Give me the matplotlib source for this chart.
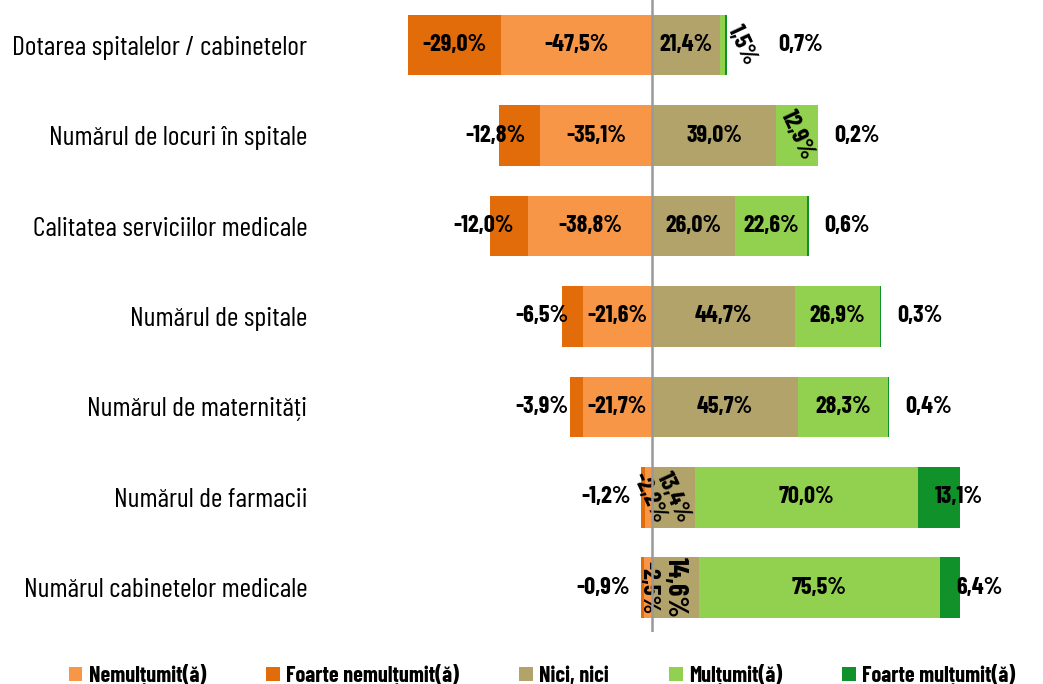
import matplotlib.pyplot as plt
import numpy as np

categories = ['Dotarea spitalelor / cabinetelor', 'Numărul de locuri în spitale',
              'Calitatea serviciilor medicale', 'Numărul de spitale',
              'Numărul de maternități', 'Numărul de farmacii',
              'Numărul cabinetelor medicale']

# values in %, negative side shown as minus
nemultumit = [47.5, 35.1, 38.8, 21.6, 21.7, 2.2, 2.5]
foarte_nemultumit = [29.0, 12.8, 12.0, 6.5, 3.9, 1.2, 0.9]
nici_nici = [21.4, 39.0, 26.0, 44.7, 45.7, 13.4, 14.6]
multumit = [1.5, 12.9, 22.6, 26.9, 28.3, 70.0, 75.5]
foarte_multumit = [0.7, 0.2, 0.6, 0.3, 0.4, 13.1, 6.4]

series_names = ['Nemulțumit(ă)', 'Foarte nemulțumit(ă)', 'Nici, nici',
                'Mulțumit(ă)', 'Foarte mulțumit(ă)']
colors = ['#F79646', '#E36C0A', '#B1A36A', '#92D050', '#10912A']

plt.rcParams['font.family'] = ['Barlow Condensed', 'DejaVu Sans']


def pct(v):
    return ('%.1f%%' % v).replace('.', ',')


fig = plt.figure(figsize=(10.43, 6.84), dpi=100)
ax = fig.add_axes([333 / 1043, 52 / 684, 670 / 1043, 632 / 684])

y = np.arange(len(categories))
h = 0.67
n1 = -np.array(nemultumit)
n2 = -np.array(foarte_nemultumit)
p1 = np.array(nici_nici)
p2 = np.array(multumit)
p3 = np.array(foarte_multumit)

ax.barh(y, n1, h, color=colors[0], label=series_names[0])
ax.barh(y, n2, h, left=n1, color=colors[1], label=series_names[1])
ax.barh(y, p1, h, color=colors[2], label=series_names[2])
ax.barh(y, p2, h, left=p1, color=colors[3], label=series_names[3])
ax.barh(y, p3, h, left=p1 + p2, color=colors[4], label=series_names[4])

fs = 17.5
kw = dict(fontweight='bold', va='center')
last = len(categories) - 1
for i in y:
    # foarte nemultumit: right aligned a bit inside its segment
    if foarte_nemultumit[i] > 20:
        ax.text(n1[i] + n2[i] / 2, i, pct(n2[i]), ha='center', fontsize=fs, **kw)
    else:
        ax.text(n1[i] - 4.4, i, pct(n2[i]), ha='right', fontsize=fs, **kw)
    # inner segments: centered, rotated if narrow
    for left, w in [(0, n1[i]), (0, p1[i]), (p1[i], p2[i])]:
        xc = left + w / 2
        if abs(w) < 16:
            if 0 < w < 2:
                xc += 6  # label pushed out past the thin sliver
            if i == last:
                ax.text(xc, i, pct(w), ha='center', rotation=-90, rotation_mode='anchor',
                        fontsize=20 if w > 0 else fs, **kw)
            else:
                ax.text(xc, i, pct(w), ha='center', rotation=-65, rotation_mode='anchor',
                        fontsize=fs, **kw)
        else:
            ax.text(xc, i, pct(w), ha='center', fontsize=fs, **kw)
    # foarte multumit: left aligned after segment start
    start = p1[i] + p2[i]
    off = 16.5 if multumit[i] < 3 else 5.3
    ax.text(start + off, i, pct(p3[i]), ha='left', fontsize=fs, **kw)

ax.axvline(0, color='#999999', lw=1.8, zorder=3)
ax.set_xlim(-100, 110)
ax.set_ylim(6.49, -0.5)
ax.set_yticks(y)
ax.set_yticklabels(categories, fontsize=20)
ax.tick_params(axis='y', length=0, pad=18.5)
ax.set_xticks([])
for s in ax.spines.values():
    s.set_visible(False)

fig.legend(loc='lower center', bbox_to_anchor=(0.52, -0.032), ncol=5, frameon=False,
           prop={'weight': 'bold', 'size': 16}, handlelength=0.6, handleheight=0.6,
           handletextpad=0.3, columnspacing=2.7)

fig.savefig('out.png', dpi=100)
